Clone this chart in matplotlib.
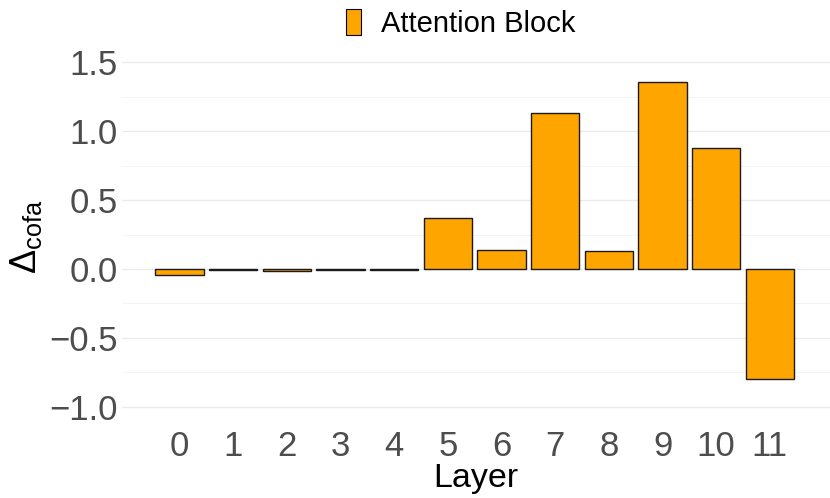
import numpy as np
import matplotlib
matplotlib.use("Agg")
import matplotlib.pyplot as plt
from matplotlib.patches import Patch
from matplotlib.ticker import MultipleLocator

# data
layers = list(range(12))
delta_cofa = [-0.04, -0.005, -0.015, -0.01, -0.005, 0.37, 0.14, 1.13, 0.13, 1.36, 0.88, -0.80]
yticks = [-1.0, -0.5, 0.0, 0.5, 1.0, 1.5]

plt.rcParams['font.family'] = ['Liberation Sans', 'DejaVu Sans']
plt.rcParams['mathtext.fontset'] = 'custom'
plt.rcParams['mathtext.rm'] = 'Liberation Sans'
plt.rcParams['mathtext.it'] = 'Liberation Sans'

fig = plt.figure(figsize=(8.3, 4.98), dpi=100)
ax = fig.add_axes([0.147, 0.147, 0.853, 0.753])

ax.bar(layers, delta_cofa, width=0.9, color='#FFA500', edgecolor='#1A1A1A',
       linewidth=1.0, zorder=3)

ax.set_xlim(-1.07, 12.12)
ax.set_ylim(-1.13, 1.59)
ax.set_xticks(layers)
ax.set_xticklabels([str(l) for l in layers])
ax.set_yticks(yticks)
ax.set_yticklabels([f"{v:.1f}".replace('-', '\u2212') for v in yticks])
ax.yaxis.set_minor_locator(MultipleLocator(0.25))

# minimal theme
for s in ax.spines.values():
    s.set_visible(False)
ax.tick_params(axis='both', which='both', length=0, labelsize=25, labelcolor='#4D4D4D')
ax.tick_params(axis='x', pad=4)
ax.tick_params(axis='y', pad=3)
ax.grid(axis='y', which='major', color='#EBEBEB', linewidth=1.0, zorder=0)
ax.grid(axis='y', which='minor', color='#F3F3F3', linewidth=0.6, zorder=0)
ax.grid(axis='x', visible=False)

ax.set_xlabel('Layer', fontsize=24.5, labelpad=0)
ax.set_ylabel(r'$\Delta_{\mathrm{cofa}}$', fontsize=26, labelpad=4)

handle = Patch(facecolor='#FFA500', edgecolor='black', linewidth=0.8)
fig.legend([handle], ['Attention Block'], loc='center', bbox_to_anchor=(0.555, 0.953),
           frameon=False, fontsize=21, handlelength=0.5, handleheight=1.0,
           handletextpad=0.7)

fig.savefig('out.png', dpi=100)
